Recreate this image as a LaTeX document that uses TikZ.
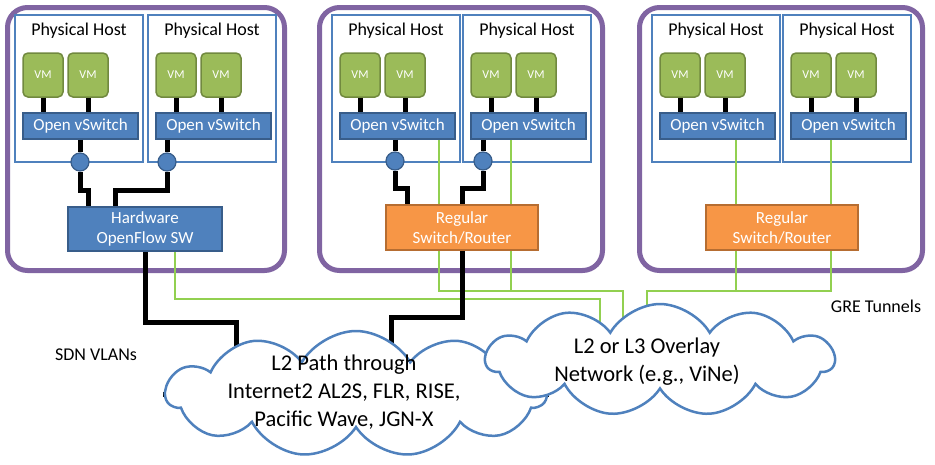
\documentclass[tikz,border=0pt]{standalone}
\usepackage{fontspec}
\setmainfont{Carlito}
\usetikzlibrary{shapes.symbols}
\definecolor{sitepurple}{HTML}{8064A2}
\definecolor{hostblue}{HTML}{4F81BD}
\definecolor{ovsblue}{HTML}{4F81BD}
\definecolor{ovsedge}{HTML}{385D8A}
\definecolor{vmgreen}{HTML}{9BBB59}
\definecolor{vmedge}{HTML}{71893F}
\definecolor{rtorange}{HTML}{F79646}
\definecolor{rtedge}{HTML}{B66D31}
\definecolor{tunnelgreen}{HTML}{92D050}
\pgfdeclarelayer{front}
\pgfsetlayers{main,front}
\tikzset{
  site/.style={draw=sitepurple, line width=5pt, rounded corners=20pt, minimum width=283pt, minimum height=263pt},
  host/.style={draw=hostblue, line width=2pt, minimum width=128pt, minimum height=147pt, inner sep=0pt,
    label={[font=\fontsize{18}{21}\selectfont, anchor=north, inner sep=0pt, yshift=-9pt]north:Physical Host}},
  vm/.style={draw=vmedge, fill=vmgreen, line width=1.5pt, rounded corners=5pt, minimum width=40pt, minimum height=44pt,
    inner sep=0pt, text=white, font=\fontsize{12}{14}\selectfont},
  ovs/.style={draw=ovsedge, fill=ovsblue, line width=1.5pt, minimum width=115pt, minimum height=26pt,
    inner sep=0pt, text=white, font=\fontsize{17}{20}\selectfont},
  hwsw/.style={draw=ovsedge, fill=ovsblue, line width=1.5pt, minimum width=154pt, minimum height=44pt,
    inner sep=0pt, align=center, text=white, font=\fontsize{17}{20}\selectfont},
  router/.style={draw=rtedge, fill=rtorange, line width=1.5pt, minimum width=152pt, minimum height=45pt,
    inner sep=0pt, align=center, text=white, font=\fontsize{17}{20}\selectfont},
  port/.style={circle, draw=ovsedge, fill=ovsblue, line width=1.2pt, minimum size=18pt, inner sep=0pt},
  vlan/.style={black, line width=5pt},
  tunnel/.style={tunnelgreen, line width=2pt},
  cloudy/.style={cloud, cloud puffs=11, cloud puff arc=120, cloud ignores aspect, draw=hostblue, fill=white, line width=2.5pt, inner sep=0pt},
  cloudtxt/.style={align=center, font=\fontsize{22.5}{28}\selectfont},
  lbl/.style={font=\fontsize{18}{21}\selectfont}
}
\begin{document}
\begin{tikzpicture}[x=1pt,y=-1pt]
\useasboundingbox (0,0) rectangle (935,464);
% clouds sit in front of the links
\begin{pgfonlayer}{front}
  \node[cloudy, minimum width=380pt, minimum height=126pt] (net) at (356,394) {};
  \node[cloudy, minimum width=348pt, minimum height=112pt] (ovl) at (660,360) {};
  \node[cloudtxt] (netlbl) at (344,392) {L2 Path through\\Internet2 AL2S, FLR, RISE,\\Pacific Wave, JGN-X};
  \node[cloudtxt] (ovllbl) at (647,362) {L2 or L3 Overlay\\Network (e.g., ViNe)};
\end{pgfonlayer}
% sites
\node[site, minimum width=277pt] (siteA) at (146,139) {};
\node[site] (siteB) at (461,139) {};
\node[site] (siteC) at (781,139) {};
% hosts
\foreach \h/\x in {h1/15,h2/148,h3/332,h4/463,h5/652,h6/783}{
  \node[host] (\h) at (\x+64,88.5) {};
  \node[vm] (\h-a) at (\x+28,75) {VM};
  \node[vm] (\h-b) at (\x+73,75) {VM};
  \node[ovs] (\h-s) at (\x+65.5,126) {Open vSwitch};
  \draw[vlan] (\h-a.south) -- (\h-a.south |- \h-s.north);
  \draw[vlan] (\h-b.south) -- (\h-b.south |- \h-s.north);
}
\node[hwsw] (hw) at (145,229) {Hardware\\OpenFlow SW};
\node[router] (rt2) at (462,227.5) {Regular\\Switch/Router};
\node[router] (rt3) at (782,227.5) {Regular\\Switch/Router};
\node[port] (p1) at (80,162) {};
\node[port] (p2) at (167,162) {};
\node[port] (p3) at (395,161) {};
\node[port] (p4) at (483,161) {};
% tunnels
\coordinate (g1) at (439,291);
\coordinate (g2) at (511,291);
\coordinate (g3) at (736,291);
\coordinate (g4) at (831,291);
\coordinate (j1) at (600,299);
\coordinate (j2) at (623,291);
\coordinate (j3) at (647,291);
\draw[tunnel] (h3-s.south -| g1) -- (rt2.north -| g1);
\draw[tunnel] (h4-s.south -| g2) -- (rt2.north -| g2);
\draw[tunnel] (h5-s.south -| g3) -- (rt3.north -| g3);
\draw[tunnel] (h6-s.south -| g4) -- (rt3.north -| g4);
\draw[tunnel] ([xshift=30pt]hw.south) |- (j1) |- (ovl);
\draw[tunnel] (rt2.south -| g1) |- (j2) |- (ovl);
\draw[tunnel] (rt2.south -| g2) -- (g2);
\draw[tunnel] (rt3.south -| g4) |- (j3) |- (ovl);
\draw[tunnel] (rt3.south -| g3) -- (g3);
% vlans
\coordinate (k1) at (236,322);
\coordinate (k2) at (391,317);
\draw[vlan] (h1-s.south -| p1) -- (p1.north) (p1.south) -- ++(0,19) -| ([xshift=-57pt]hw.north);
\draw[vlan] (h2-s.south -| p2) -- (p2.north) (p2.south) -- ++(0,19) -| ([xshift=-30pt]hw.north);
\draw[vlan] (h3-s.south -| p3) -- (p3.north) (p3.south) -- ++(0,18) -| ([xshift=-55pt]rt2.north);
\draw[vlan] (h4-s.south -| p4) -- (p4.north) (p4.south) -- ++(0,18) -| (rt2.north);
\draw[vlan] (hw.south) |- (k1) |- (net);
\draw[vlan] (rt2.south) |- (k2) |- (net);
\node[lbl] (sdn) at (96,355) {SDN VLANs};
\node[lbl] (gre) at (876,306) {GRE Tunnels};
\end{tikzpicture}
\end{document}
